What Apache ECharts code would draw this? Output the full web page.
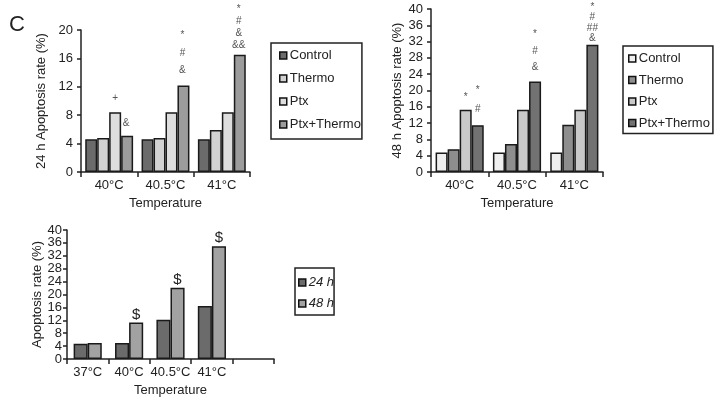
<!DOCTYPE html>
<html>
<head>
<meta charset="utf-8">
<script src="https://cdn.jsdelivr.net/npm/echarts@6/dist/echarts.min.js"></script>
<style>
html,body{margin:0;padding:0;background:#fff;}
#chart{width:722px;height:402px;}
</style>
</head>
<body>
<div id="chart"></div>
<script>
// ---- data ----
const categoriesTemp = ['40°C', '40.5°C', '41°C'];
const control24 = [4.6, 4.6, 4.6];
const thermo24 = [4.8, 4.8, 5.9];
const ptx24 = [8.4, 8.4, 8.4];
const combo24 = [5.1, 12.2, 16.5];

const control48 = [4.8, 4.8, 4.8];
const thermo48 = [5.6, 6.9, 11.6];
const ptx48 = [15.3, 15.3, 15.3];
const combo48 = [11.5, 22.2, 31.2];

const categoriesTime = ['37°C', '40°C', '40.5°C', '41°C', ''];
const rate24h = [4.7, 5.0, 12.2, 16.4, null];
const rate48h = [5.0, 11.3, 22.1, 35.0, null];

const seriesNames = ['Control', 'Thermo', 'Ptx', 'Ptx+Thermo'];
const timeNames = ['24 h', '48 h'];

// significance marks
const ann24Ptx = ['+', '', ''];
const ann24Combo = ['&', '*\n#\n&', '*\n#\n&\n&&'];
const ann48Ptx = ['*', '', ''];
const ann48Combo = ['*\n#', '*\n#\n&', '*\n#\n##\n&'];
const annTime48 = ['', '$', '$', '$', ''];

const yMax24 = 20, yMax48 = 40, yMaxTime = 40, yStep = 4;

// ---- styles (kept separate from data) ----
const FONT = 'Liberation Sans, Arial, sans-serif';
const colors24 = ['#6b6b6b', '#d2d2d2', '#dedede', '#9c9c9c'];
const colors48 = ['#efefef', '#8e8e8e', '#c9c9c9', '#727272'];
const colorsTime = ['#6b6b6b', '#a2a2a2'];
const lh24Combo = [14, 17.5, 12.3];
const lh48Combo = [19, 16.5, 10.5];
const dist24Combo = [6, 6, 3];
const dist48Combo = [6, 6, 1];

function withMarks(values, marks, opts) {
  return values.map((v, i) => {
    const m = marks[i];
    if (!m) return { value: v };
    return {
      value: v,
      label: {
        show: true,
        position: 'top',
        formatter: m,
        fontFamily: FONT,
        fontSize: opts.fontSize || 10,
        color: opts.color || '#555',
        lineHeight: opts.lh ? opts.lh[i] : 12,
        distance: opts.dist ? opts.dist[i] : (opts.distance != null ? opts.distance : 3),
        offset: opts.offset || [0, 0]
      }
    };
  });
}

const axisLine = { lineStyle: { color: '#222', width: 1.5 } };
const axisTick = { length: 4, lineStyle: { color: '#222', width: 1.5 } };

function xAxisCfg(grid, cats) {
  return {
    type: 'category', gridIndex: grid, data: cats,
    axisLine: axisLine,
    axisTick: { show: true, alignWithLabel: false, length: 5, lineStyle: { color: '#222', width: 1.5 } },
    axisLabel: { fontFamily: FONT, fontSize: 13, color: '#222', margin: 7, interval: 0 },
    name: 'Temperature', nameLocation: 'middle', nameGap: 25,
    nameTextStyle: { fontFamily: FONT, fontSize: 13, color: '#222' }
  };
}
function yAxisCfg(grid, max, name, gap, margin) {
  return {
    type: 'value', gridIndex: grid, min: 0, max: max, interval: yStep,
    axisLine: Object.assign({ show: true }, axisLine), axisTick: Object.assign({ show: true }, axisTick),
    splitLine: { show: false },
    axisLabel: { fontFamily: FONT, fontSize: 13, color: '#222', margin: margin },
    name: name, nameLocation: 'middle', nameGap: gap,
    nameTextStyle: { fontFamily: FONT, fontSize: 13, color: '#222' }
  };
}

const barBorder = { borderColor: '#1a1a1a', borderWidth: 1.5 };

const series = [];
// chart 1 (24 h)
[control24, thermo24, ptx24, combo24].forEach((vals, k) => {
  let data = vals;
  if (k === 2) data = withMarks(vals, ann24Ptx, { distance: 8 });
  if (k === 3) data = withMarks(vals, ann24Combo, { lh: lh24Combo, dist: dist24Combo, offset: [-1, 0] });
  series.push({
    type: 'bar', name: 'A' + k, xAxisIndex: 0, yAxisIndex: 0, data: data,
    barGap: '0%', barCategoryGap: '15%',
    itemStyle: Object.assign({ color: colors24[k] }, barBorder)
  });
});
// chart 2 (48 h)
[control48, thermo48, ptx48, combo48].forEach((vals, k) => {
  let data = vals;
  if (k === 2) data = withMarks(vals, ann48Ptx, { distance: 6 });
  if (k === 3) data = withMarks(vals, ann48Combo, { lh: lh48Combo, dist: dist48Combo });
  series.push({
    type: 'bar', name: 'B' + k, xAxisIndex: 1, yAxisIndex: 1, data: data,
    barGap: '0%', barCategoryGap: '16%',
    itemStyle: Object.assign({ color: colors48[k] }, barBorder)
  });
});
// chart 3 (time)
[rate24h, rate48h].forEach((vals, k) => {
  let data = vals;
  if (k === 1) data = withMarks(vals, annTime48, { fontSize: 15, color: '#222', distance: 2 });
  series.push({
    type: 'bar', name: 'T' + k, xAxisIndex: 2, yAxisIndex: 2, data: data,
    barGap: '0%', barCategoryGap: '32%',
    itemStyle: Object.assign({ color: colorsTime[k] }, barBorder)
  });
});

const labelMap = {
  A0: seriesNames[0], A1: seriesNames[1], A2: seriesNames[2], A3: seriesNames[3],
  B0: seriesNames[0], B1: seriesNames[1], B2: seriesNames[2], B3: seriesNames[3],
  T0: timeNames[0], T1: timeNames[1]
};

function legendCfg(names, left, top, padding, gap, italic) {
  return {
    data: names, orient: 'vertical', left: left, top: top,
    padding: padding, itemGap: gap, itemWidth: 7, itemHeight: 7, icon: 'rect',
    borderColor: '#222', borderWidth: 1.5, selectedMode: false,
    itemStyle: { borderColor: '#111', borderWidth: 1.5 },
    textStyle: { fontFamily: FONT, fontSize: 13, color: '#222', lineHeight: 15, fontStyle: italic ? 'italic' : 'normal', padding: [0, 0, 0, -2] },
    formatter: n => labelMap[n]
  };
}

const option = {
  animation: false,
  backgroundColor: '#fff',
  title: { text: 'C', left: 9, top: 14, padding: 0, textStyle: { fontFamily: FONT, fontSize: 22, fontWeight: 'normal', color: '#222' } },
  grid: [
    { left: 81, top: 30, width: 169, height: 142 },
    { left: 431, top: 9, width: 172, height: 163 },
    { left: 67, top: 230, width: 207, height: 129 }
  ],
  xAxis: [xAxisCfg(0, categoriesTemp), xAxisCfg(1, categoriesTemp), xAxisCfg(2, categoriesTime)],
  yAxis: [
    yAxisCfg(0, yMax24, '24 h Apoptosis rate (%)', 33, 8),
    yAxisCfg(1, yMax48, '48 h Apoptosis rate (%)', 27, 8),
    yAxisCfg(2, yMaxTime, 'Apoptosis rate (%)', 22, 5)
  ],
  legend: [
    legendCfg(['A0', 'A1', 'A2', 'A3'], 271, 43, [5, 1, 7, 8], 8, false),
    legendCfg(['B0', 'B1', 'B2', 'B3'], 623, 46, [5, 3, 3, 5], 6.5, false),
    legendCfg(['T0', 'T1'], 295, 268, [7, 0, 4, 3], 6, true)
  ],
  series: series
};

const chart = echarts.init(document.getElementById('chart'), null, { renderer: 'canvas' });
chart.setOption(option);
</script>
</body>
</html>
